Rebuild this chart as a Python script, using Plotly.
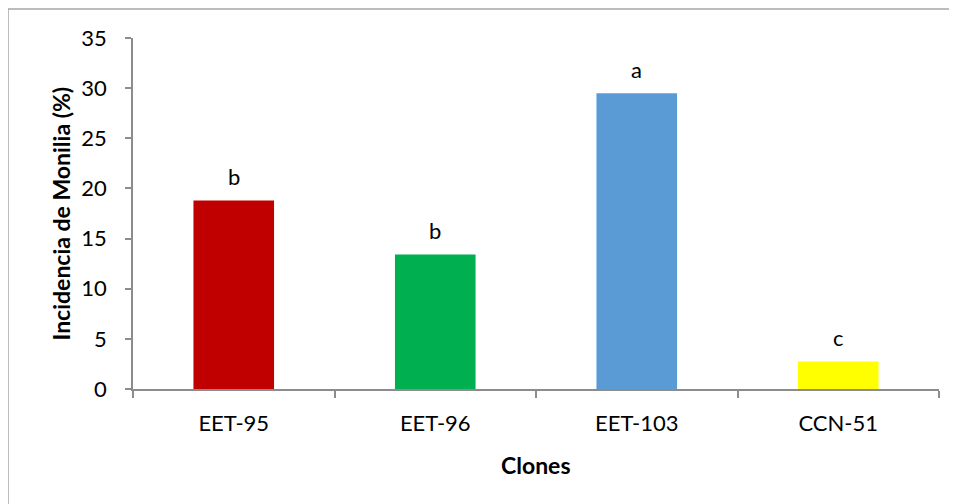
import plotly.graph_objects as go

clones = ["EET-95", "EET-96", "EET-103", "CCN-51"]
incidencia = [18.8, 13.4, 29.5, 2.75]
letras = ["b", "b", "a", "c"]
colores = ["#C00000", "#00B050", "#5B9BD5", "#FFFF00"]
y_ticks = [0, 5, 10, 15, 20, 25, 30, 35]

# page is offset by the 8px body margin
OFF = 8
W, H = 957 - OFF, 504 - OFF
L, T = 133 - OFF, 38 - OFF
R = W - (939 - OFF)
B = H - (389 - OFF)
pw, ph = W - L - R, H - T - B

def px_x(p):
    return (p - OFF - L) / pw

def px_y(p):
    return (H - B - (p - OFF)) / ph

fig = go.Figure(go.Bar(x=clones, y=incidencia, marker_color=colores,
                       marker_line_width=0, width=0.4))

for c, v, t in zip(clones, incidencia, letras):
    fig.add_annotation(x=c, y=v, text=t, showarrow=False, yshift=24,
                       font=dict(size=22, color="#000000"))

gray = "#A6A6A6"
fig.add_shape(type="line", xref="paper", yref="paper",
              x0=px_x(8), x1=px_x(990), y0=px_y(9), y1=px_y(9),
              line=dict(color=gray, width=1.5))
fig.add_shape(type="line", xref="paper", yref="paper",
              x0=px_x(8), x1=px_x(8), y0=px_y(9), y1=px_y(540),
              line=dict(color=gray, width=1.5))

fig.add_annotation(xref="paper", yref="paper", x=px_x(60), y=0.5,
                   text="<b>Incidencia de Monilia (%)</b>", textangle=-90,
                   showarrow=False, font=dict(size=23, color="#000000"),
                   xanchor="center", yanchor="middle")
fig.add_annotation(xref="paper", yref="paper", x=0.5, y=px_y(465),
                   text="<b>Clones</b>", showarrow=False,
                   font=dict(size=23, color="#000000"),
                   xanchor="center", yanchor="middle")

fig.update_layout(
    width=W, height=H,
    margin=dict(l=L, r=R, t=T, b=B),
    plot_bgcolor="white", paper_bgcolor="white",
    showlegend=False,
    font=dict(family="Lato, Carlito, Calibri, sans-serif", size=22, color="#000000"),
    xaxis=dict(showline=True, linecolor="#8C8C8C", linewidth=1.5,
               ticks="outside", tickson="boundaries", ticklen=7,
               tickcolor="#8C8C8C", tickwidth=1.5, ticklabelstandoff=14,
               tickfont=dict(size=22), showgrid=False),
    yaxis=dict(range=[0, 35], tickvals=y_ticks, showline=True,
               linecolor="#8C8C8C", linewidth=1.5,
               ticks="outside", ticklen=6, tickcolor="#8C8C8C", tickwidth=1.5,
               ticklabelstandoff=14,
               tickfont=dict(size=22), showgrid=False, zeroline=False),
)

fig.write_html(
    "out.html",
    post_script="document.documentElement.style.overflow='hidden';"
                "document.body.style.overflow='hidden';",
)
